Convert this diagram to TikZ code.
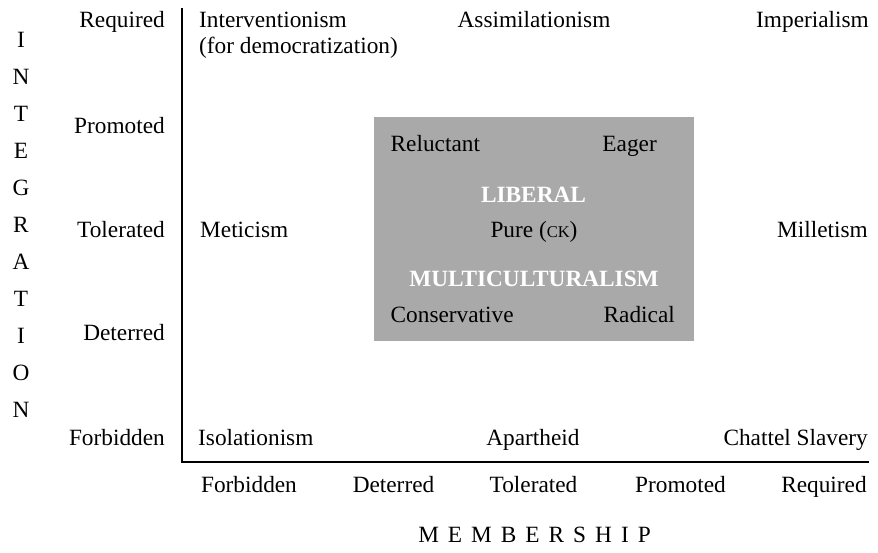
\documentclass[tikz,border=0pt]{standalone}
\usepackage{fontspec}
\setmainfont{Liberation Serif}
\definecolor{boxgray}{RGB}{169,169,169}
\tikzset{
  lab/.style={font=\fontsize{23.3}{28}\selectfont, inner sep=0pt, text=black},
  wlab/.style={font=\fontsize{23.3}{28}\selectfont\bfseries, inner sep=0pt, text=white},
  axisline/.style={line width=2.4pt, draw=black},
}
\begin{document}
\begin{tikzpicture}[x=1pt,y=-1pt]
\useasboundingbox (0,0) rectangle (878,552);
% gray box
\fill[boxgray] (374,117) rectangle (694,341);
% axes
\coordinate (top) at (182,8);
\coordinate (corner) at (182,462);
\coordinate (right) at (869,462);
\draw[axisline] (top) -- (corner) -- (right);
% vertical axis title
\foreach \l [count=\i] in {I,N,T,E,G,R,A,T,I,O,N}
  \node[lab, anchor=base] (int\i) at (21,{47+37*(\i-1)}) {\l};
% row labels
\node[lab, anchor=base east] (rReq) at (165,27) {Required};
\node[lab, anchor=base east] (rPro) at (165,133) {Promoted};
\node[lab, anchor=base east] (rTol) at (165,237) {Tolerated};
\node[lab, anchor=base east] (rDet) at (165,340) {Deterred};
\node[lab, anchor=base east] (rFor) at (165,445) {Forbidden};
% column labels
\node[lab, anchor=base] (cFor) at (249,492) {Forbidden};
\node[lab, anchor=base] (cDet) at (393.5,492) {Deterred};
\node[lab, anchor=base] (cTol) at (533.5,492) {Tolerated};
\node[lab, anchor=base] (cPro) at (680.5,492) {Promoted};
\node[lab, anchor=base] (cReq) at (824,492) {Required};
\node[lab, anchor=base] (mem) at (534.5,542) {M\hspace{9pt}E\hspace{9pt}M\hspace{9pt}B\hspace{9pt}E\hspace{9pt}R\hspace{9pt}S\hspace{9pt}H\hspace{9pt}I\hspace{9pt}P};
% grid entries
\node[lab, anchor=base west] (interv) at (199,27) {Interventionism};
\node[lab, anchor=base west] (interv2) at (199,53) {(for democratization)};
\node[lab, anchor=base] (assim) at (534,27) {Assimilationism};
\node[lab, anchor=base east] (imper) at (869,27) {Imperialism};
\node[lab, anchor=base west] (metic) at (200,237) {Meticism};
\node[lab, anchor=base east] (millet) at (868,237) {Milletism};
\node[lab, anchor=base west] (isol) at (198,445) {Isolationism};
\node[lab, anchor=base] (apart) at (533,445) {Apartheid};
\node[lab, anchor=base east] (chattel) at (868,445) {Chattel Slavery};
% box entries
\node[lab, anchor=base west] (reluct) at (390.5,151) {Reluctant};
\node[lab, anchor=base east] (eager) at (657,151) {Eager};
\node[wlab, anchor=base] (liberal) at (533.5,202) {LIBERAL};
\node[lab, anchor=base] (pure) at (534,237) {Pure ({\fontsize{16.5}{20}\selectfont CK})};
\node[wlab, anchor=base] (multi) at (534,286) {MULTICULTURALISM};
\node[lab, anchor=base west] (conserv) at (390.5,322) {Conservative};
\node[lab, anchor=base east] (radical) at (675,322) {Radical};
\end{tikzpicture}
\end{document}
